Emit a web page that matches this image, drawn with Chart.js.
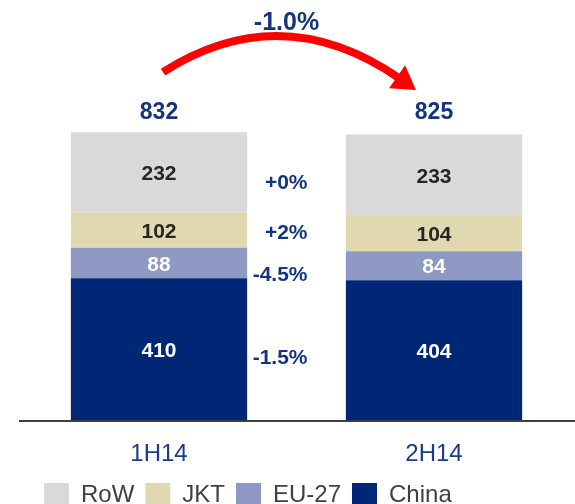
<!DOCTYPE html>
<html>
<head>
<meta charset="utf-8">
<script src="https://cdn.jsdelivr.net/npm/chart.js@4"></script>
<style>
  html, body { margin: 0; padding: 0; background: #fff; overflow: hidden; }
  #wrap { width: 575px; height: 504px; overflow: hidden; }
</style>
</head>
<body>
<div id="wrap"><canvas id="stage" width="575" height="518"></canvas></div>
<script>
// データ
const categories = ['1H14', '2H14'];
const china = [410, 404];
const eu27 = [88, 84];
const jkt = [102, 104];
const row = [232, 233];
const totals = [832, 825];
// 系列ごとの変化率 (China, EU-27, JKT, RoW の順)
const changes = ['-1.5%', '-4.5%', '+2%', '+0%'];
const totalChange = '-1.0%';

const navy = '#15347f';
const font = "'Liberation Sans', Arial, sans-serif";
Chart.defaults.font.family = font;

// バー内の数値、合計、変化率、矢印
const labelsPlugin = {
  id: 'labels',
  afterDatasetsDraw(chart) {
    const ctx = chart.ctx;
    const y = chart.scales.y;
    ctx.save();
    ctx.textAlign = 'center';
    ctx.textBaseline = 'middle';

    // 各セグメントの数値
    chart.data.datasets.forEach((ds, i) => {
      const meta = chart.getDatasetMeta(i);
      ctx.font = 'bold 21px ' + font;
      ctx.fillStyle = ds.labelColor;
      meta.data.forEach((bar, j) => {
        ctx.fillText(ds.data[j], bar.x, (bar.y + bar.base) / 2 + 2);
      });
    });

    // 合計
    const top = y.getPixelForValue(Math.max(...totals));
    const bars = chart.getDatasetMeta(0).data;
    ctx.font = 'bold 23px ' + font;
    ctx.fillStyle = navy;
    bars.forEach((bar, j) => {
      ctx.fillText(totals[j], bar.x, top - 19);
    });

    // 変化率 (2本目の各セグメントの中心付近)
    const mid = (bars[0].x + bars[1].x) / 2;
    const offs = [8, 10, 0, 8];
    ctx.font = 'bold 21px ' + font;
    ctx.textAlign = 'right';
    chart.data.datasets.forEach((ds, i) => {
      const bar = chart.getDatasetMeta(i).data[1];
      ctx.fillText(changes[i], mid + 11, (bar.y + bar.base) / 2 + offs[i]);
    });

    // 矢印
    const x0 = bars[0].x + 4, y0 = top - 60;
    const x1 = bars[1].x - 32, y1 = top - 52;
    const cx = (x0 + x1) / 2, cy = top - 136;
    ctx.strokeStyle = '#ff0000';
    ctx.fillStyle = '#ff0000';
    ctx.lineWidth = 8;
    ctx.beginPath();
    ctx.moveTo(x0, y0);
    ctx.quadraticCurveTo(cx, cy, x1, y1);
    ctx.stroke();
    const ang = Math.atan2(y1 - cy, x1 - cx);
    const tipX = x1 + Math.cos(ang) * 17, tipY = y1 + Math.sin(ang) * 17;
    const bx = x1 - Math.cos(ang) * 6, by = y1 - Math.sin(ang) * 6;
    ctx.beginPath();
    ctx.moveTo(tipX, tipY);
    ctx.lineTo(bx + Math.sin(ang) * 14, by - Math.cos(ang) * 14);
    ctx.lineTo(bx - Math.sin(ang) * 14, by + Math.cos(ang) * 14);
    ctx.closePath();
    ctx.fill();

    ctx.font = 'bold 25px ' + font;
    ctx.fillStyle = navy;
    ctx.textAlign = 'center';
    ctx.fillText(totalChange, mid - 10, 23);

    // 横軸の線
    const zero = y.getPixelForValue(0);
    ctx.strokeStyle = '#404040';
    ctx.lineWidth = 2;
    ctx.beginPath();
    ctx.moveTo(19, zero + 1);
    ctx.lineTo(chart.width, zero + 1);
    ctx.stroke();
    ctx.restore();
  }
};

// 凡例の位置を少し右へ
const legendShift = {
  id: 'legendShift',
  afterLayout(chart) {
    chart.legend.left += 11.5;
    chart.legend.right += 11.5;
  }
};

new Chart(document.getElementById('stage'), {
  type: 'bar',
  data: {
    labels: categories,
    datasets: [
      { label: 'China', data: china, backgroundColor: '#002776', labelColor: '#ffffff' },
      { label: 'EU-27', data: eu27, backgroundColor: '#8e9ac4', labelColor: '#ffffff' },
      { label: 'JKT', data: jkt, backgroundColor: '#e0d8b0', labelColor: '#262626' },
      { label: 'RoW', data: row, backgroundColor: '#d9d9d9', labelColor: '#262626' }
    ]
  },
  options: {
    responsive: false,
    devicePixelRatio: 1,
    animation: false,
    categoryPercentage: 1,
    barPercentage: 0.641,
    layout: { padding: { left: 21.5, right: 3.5, top: 74, bottom: 0 } },
    scales: {
      x: {
        stacked: true,
        grid: { display: false, drawTicks: false },
        border: { display: false },
        ticks: { color: '#1c3a8c', font: { size: 24 }, padding: 20 },
        afterFit(scale) { scale.height = 52; }
      },
      y: { stacked: true, display: false, min: 0, max: 1000 }
    },
    plugins: {
      legend: {
        position: 'bottom',
        align: 'start',
        reverse: true,
        labels: {
          boxWidth: 25,
          boxHeight: 25,
          padding: 11,
          color: '#404040',
          font: { size: 24 }
        }
      },
      tooltip: { enabled: false }
    }
  },
  plugins: [labelsPlugin, legendShift]
});
</script>
</body>
</html>
